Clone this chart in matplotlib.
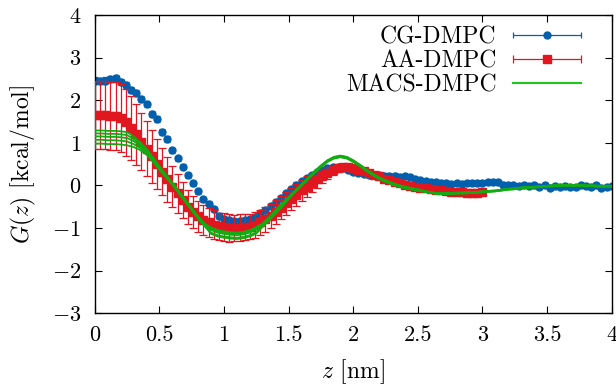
import numpy as np
import matplotlib
matplotlib.use("Agg")
import matplotlib.pyplot as plt
from matplotlib.legend_handler import HandlerErrorbar
from matplotlib.lines import Line2D

plt.rcParams['font.family'] = 'serif'
plt.rcParams['font.serif'] = ['cmr10']
plt.rcParams['mathtext.fontset'] = 'cm'
plt.rcParams['axes.formatter.use_mathtext'] = True
plt.rcParams['axes.unicode_minus'] = True

# ---------------- data ----------------
labels = ["CG-DMPC", "AA-DMPC", "MACS-DMPC"]

z_cg = np.round(np.arange(101) * 0.04, 2)
g_cg = [2.46, 2.45, 2.46, 2.50, 2.52, 2.42, 2.35, 2.24, 2.18, 2.04,
        1.90, 1.68, 1.55, 1.25, 1.10, 0.82, 0.64, 0.44, 0.24, 0.05,
        -0.14, -0.33, -0.43, -0.56, -0.72, -0.80, -0.82, -0.84, -0.83, -0.82,
        -0.80, -0.74, -0.66, -0.58, -0.48, -0.38, -0.29, -0.19, -0.09, 0.01,
        0.10, 0.18, 0.25, 0.31, 0.36, 0.40, 0.42, 0.43, 0.41, 0.37,
        0.32, 0.29, 0.27, 0.25, 0.25, 0.24, 0.23, 0.22, 0.23, 0.20,
        0.21, 0.19, 0.15, 0.13, 0.10, 0.07, 0.08, 0.06, 0.06, 0.04,
        0.05, 0.04, 0.05, 0.06, 0.05, 0.06, 0.07, 0.08, 0.07, 0.02,
        0.01, 0.00, -0.01, 0.01, -0.02, 0.00, -0.03, 0.01, -0.06, -0.02,
        -0.03, -0.01, -0.04, -0.03, 0.00, -0.02, -0.03, 0.00, -0.06, -0.03,
        -0.02]
e_cg = [0.08, 0.08, 0.08, 0.08, 0.08, 0.07, 0.07, 0.07, 0.07, 0.07,
        0.07, 0.07, 0.07, 0.07, 0.07, 0.06, 0.06, 0.06, 0.06, 0.06,
        0.06, 0.06, 0.06, 0.06, 0.06, 0.06, 0.06, 0.06, 0.06, 0.06,
        0.06, 0.06, 0.06, 0.06, 0.06, 0.06, 0.06, 0.06, 0.06, 0.06,
        0.05, 0.05, 0.05, 0.05, 0.05, 0.05, 0.05, 0.05, 0.05, 0.05,
        0.05, 0.05, 0.05, 0.05, 0.05, 0.05, 0.05, 0.05, 0.05, 0.05,
        0.05, 0.05, 0.05, 0.05, 0.05, 0.05, 0.05, 0.05, 0.05, 0.05,
        0.05, 0.05, 0.05, 0.05, 0.05, 0.05, 0.05, 0.05, 0.05, 0.05,
        0.05, 0.05, 0.05, 0.05, 0.05, 0.05, 0.05, 0.05, 0.05, 0.05,
        0.05, 0.05, 0.05, 0.05, 0.05, 0.05, 0.05, 0.05, 0.05, 0.05,
        0.05]

z_aa = np.round(np.arange(76) * 0.04, 2)
g_aa = [1.65, 1.66, 1.66, 1.64, 1.62, 1.58, 1.48, 1.35, 1.20, 1.03,
        0.86, 0.68, 0.50, 0.32, 0.14, -0.03, -0.19, -0.35, -0.50, -0.63,
        -0.73, -0.81, -0.87, -0.92, -0.96, -0.98, -1.00, -1.00, -0.99, -0.98,
        -0.97, -0.93, -0.87, -0.80, -0.71, -0.62, -0.52, -0.42, -0.32, -0.22,
        -0.12, -0.03, 0.06, 0.14, 0.22, 0.29, 0.35, 0.40, 0.42, 0.42,
        0.40, 0.37, 0.33, 0.29, 0.25, 0.21, 0.16, 0.12, 0.08, 0.05,
        0.02, -0.01, -0.03, -0.05, -0.07, -0.09, -0.11, -0.12, -0.14, -0.15,
        -0.16, -0.16, -0.17, -0.17, -0.17, -0.16]
e_aa = [0.80, 0.80, 0.80, 0.80, 0.80, 0.80, 0.78, 0.75, 0.72, 0.68,
        0.65, 0.62, 0.58, 0.55, 0.52, 0.48, 0.45, 0.42, 0.40, 0.38,
        0.36, 0.35, 0.34, 0.33, 0.32, 0.32, 0.32, 0.31, 0.31, 0.30,
        0.30, 0.30, 0.29, 0.29, 0.28, 0.28, 0.27, 0.27, 0.26, 0.26,
        0.25, 0.24, 0.22, 0.20, 0.17, 0.14, 0.11, 0.08, 0.06, 0.05,
        0.04, 0.04, 0.04, 0.04, 0.04, 0.04, 0.04, 0.04, 0.04, 0.04,
        0.04, 0.04, 0.04, 0.04, 0.03, 0.03, 0.03, 0.03, 0.03, 0.03,
        0.03, 0.03, 0.03, 0.03, 0.03, 0.03]

z_macs = np.round(np.arange(81) * 0.05, 2)
g_macs_1 = [1.29, 1.29, 1.28, 1.28, 1.27, 1.25, 1.15, 1.02, 0.86, 0.66,
            0.45, 0.25, 0.07, -0.13, -0.33, -0.53, -0.73, -0.90, -0.99, -1.05,
            -1.08, -1.10, -1.11, -1.09, -1.05, -0.98, -0.89, -0.74, -0.58, -0.42,
            -0.28, -0.12, 0.03, 0.18, 0.33, 0.47, 0.59, 0.67, 0.70, 0.67,
            0.59, 0.49, 0.38, 0.28, 0.19, 0.12, 0.06, 0.01, -0.03, -0.06,
            -0.09, -0.13, -0.16, -0.18, -0.18, -0.18, -0.17, -0.17, -0.16, -0.16,
            -0.14, -0.13, -0.12, -0.10, -0.08, -0.07, -0.05, -0.04, -0.03, -0.02,
            -0.01, 0.00, 0.01, 0.01, 0.01, 0.01, 0.00, 0.00, -0.01, -0.01,
            -0.01]
g_macs_2 = [1.22, 1.22, 1.21, 1.21, 1.20, 1.18, 1.09, 0.97, 0.83, 0.63,
            0.43, 0.20, 0.02, -0.18, -0.38, -0.58, -0.78, -0.95, -1.11, -1.17,
            -1.20, -1.22, -1.23, -1.21, -1.17, -1.10, -0.96, -0.81, -0.65, -0.49,
            -0.29, -0.13, 0.02, 0.17, 0.32, 0.46, 0.58, 0.66, 0.69, 0.66,
            0.58, 0.48, 0.37, 0.27, 0.18, 0.11, 0.05, 0.00, -0.04, -0.07,
            -0.10, -0.14, -0.17, -0.19, -0.19, -0.19, -0.18, -0.18, -0.17, -0.17,
            -0.15, -0.14, -0.13, -0.11, -0.09, -0.08, -0.06, -0.05, -0.04, -0.03,
            -0.02, -0.01, 0.00, 0.00, 0.00, 0.00, -0.01, -0.01, -0.02, -0.02,
            -0.02]
g_macs_3 = [1.15, 1.15, 1.14, 1.14, 1.13, 1.11, 1.04, 0.93, 0.80, 0.60,
            0.40, 0.23, 0.05, -0.15, -0.35, -0.55, -0.75, -0.92, -1.05, -1.11,
            -1.14, -1.16, -1.17, -1.15, -1.11, -1.04, -0.92, -0.77, -0.61, -0.45,
            -0.31, -0.15, 0.00, 0.15, 0.30, 0.44, 0.56, 0.64, 0.67, 0.64,
            0.56, 0.46, 0.35, 0.25, 0.16, 0.09, 0.03, -0.02, -0.06, -0.09,
            -0.12, -0.15, -0.18, -0.20, -0.20, -0.20, -0.19, -0.19, -0.18, -0.18,
            -0.16, -0.15, -0.14, -0.12, -0.10, -0.09, -0.07, -0.06, -0.05, -0.04,
            -0.03, -0.02, -0.01, -0.01, -0.01, -0.01, -0.02, -0.02, -0.03, -0.03,
            -0.03]
g_macs_4 = [1.07, 1.07, 1.06, 1.06, 1.05, 1.03, 0.97, 0.88, 0.76, 0.58,
            0.38, 0.22, 0.04, -0.16, -0.36, -0.56, -0.76, -0.93, -1.02, -1.08,
            -1.11, -1.13, -1.14, -1.12, -1.08, -1.01, -0.93, -0.78, -0.62, -0.46,
            -0.30, -0.14, 0.01, 0.16, 0.31, 0.45, 0.57, 0.65, 0.68, 0.65,
            0.57, 0.47, 0.36, 0.26, 0.17, 0.10, 0.04, -0.01, -0.05, -0.08,
            -0.11, -0.13, -0.16, -0.18, -0.18, -0.18, -0.17, -0.17, -0.16, -0.16,
            -0.14, -0.13, -0.12, -0.10, -0.08, -0.07, -0.05, -0.04, -0.03, -0.02,
            -0.01, 0.00, 0.01, 0.01, 0.01, 0.01, 0.00, 0.00, -0.01, -0.01,
            -0.01]
g_macs_5 = [0.98, 0.98, 0.97, 0.97, 0.96, 0.94, 0.90, 0.83, 0.72, 0.55,
            0.36, 0.19, 0.01, -0.19, -0.39, -0.59, -0.79, -0.96, -1.14, -1.20,
            -1.23, -1.25, -1.26, -1.24, -1.20, -1.13, -0.97, -0.82, -0.66, -0.50,
            -0.32, -0.16, -0.01, 0.14, 0.29, 0.43, 0.55, 0.63, 0.66, 0.63,
            0.55, 0.45, 0.34, 0.24, 0.15, 0.08, 0.02, -0.03, -0.07, -0.10,
            -0.13, -0.15, -0.18, -0.20, -0.20, -0.20, -0.19, -0.19, -0.18, -0.18,
            -0.16, -0.15, -0.14, -0.12, -0.10, -0.09, -0.07, -0.06, -0.05, -0.04,
            -0.03, -0.02, -0.01, -0.01, -0.01, -0.01, -0.02, -0.02, -0.03, -0.03,
            -0.03]
g_macs = [g_macs_1, g_macs_2, g_macs_3, g_macs_4, g_macs_5]

x_ticks = [0, 0.5, 1, 1.5, 2, 2.5, 3, 3.5, 4]
x_ticklabels = ['0', '0.5', '1', '1.5', '2', '2.5', '3', '3.5', '4']
y_ticks = [-3, -2, -1, 0, 1, 2, 3, 4]

assert len(g_cg) == len(z_cg) == len(e_cg)
assert len(g_aa) == len(z_aa) == len(e_aa)
for g in g_macs:
    assert len(g) == len(z_macs)

# ---------------- style ----------------
c_blue = '#0060ad'
c_red = '#e0171f'
c_green = '#12ac12'
FS_TICK = 16
FS_LAB = 17
FS_LEG = 17

fig = plt.figure(figsize=(6.16, 3.87), dpi=100)
ax = fig.add_axes([0.154, 0.191, 0.839, 0.770])

ax.errorbar(z_cg, g_cg, yerr=e_cg, fmt='o', color=c_blue, ms=5.0,
            elinewidth=0.9, capsize=2.5, capthick=0.9, zorder=2)
ax.errorbar(z_aa, g_aa, yerr=e_aa, fmt='s', color=c_red, ms=5.8,
            elinewidth=0.9, capsize=2.8, capthick=0.9, zorder=3)
for g in g_macs:
    ax.plot(z_macs, g, '-', color=c_green, lw=1.3, zorder=4)

# legend proxies (no data marks)
h_cg = ax.errorbar([np.nan], [np.nan], xerr=[1], fmt='o', color=c_blue, ms=5.0,
                   elinewidth=0.9, capsize=2.5, capthick=0.9)
h_aa = ax.errorbar([np.nan], [np.nan], xerr=[1], fmt='s', color=c_red, ms=5.8,
                   elinewidth=0.9, capsize=2.8, capthick=0.9)
h_macs = Line2D([], [], color='#1ec81e', lw=1.5)

hl = 2.85
leg = ax.legend([h_cg, h_aa, h_macs], labels, loc='upper right',
                bbox_to_anchor=(0.94, 0.963), borderaxespad=0.0, borderpad=0.0,
                frameon=False, markerfirst=False, fontsize=FS_LEG,
                handlelength=hl, handletextpad=0.72, labelspacing=0.08,
                handler_map={type(h_cg): HandlerErrorbar(xerr_size=hl / 2)})

ax.set_xlim(0, 4)
ax.set_ylim(-3, 4)
ax.set_xticks(x_ticks)
ax.set_yticks(y_ticks)
ax.set_xticklabels(x_ticklabels)
ax.tick_params(direction='in', length=5, width=0.8, top=True, right=True,
               labelsize=FS_TICK)
ax.tick_params(axis='y', pad=10)
ax.tick_params(axis='x', pad=9)
for sp in ax.spines.values():
    sp.set_linewidth(1.0)

ax.set_xlabel(r'$z$ [nm]', fontsize=FS_LAB, labelpad=8.5)
ax.set_ylabel(r'$G(z)$ [kcal/mol]', fontsize=FS_LAB, labelpad=10)

fig.savefig('out.png', dpi=100)
